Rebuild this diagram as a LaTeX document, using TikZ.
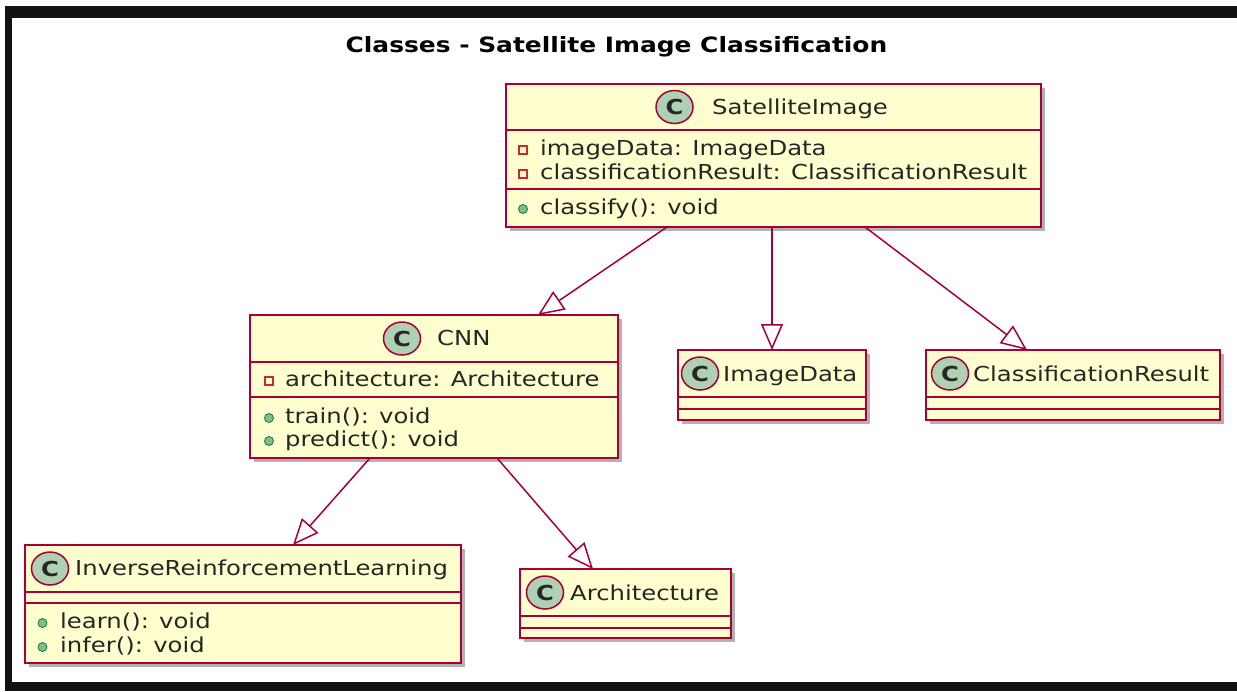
\documentclass[tikz,border=0pt]{standalone}
\usepackage{fontspec}
\setmainfont{DejaVu Sans}[FakeStretch=1.18]
\usetikzlibrary{arrows.meta,shapes.geometric,shadows,calc}
\definecolor{umlfill}{HTML}{FEFECE}
\definecolor{umlred}{HTML}{A80036}
\definecolor{umlgreen}{HTML}{ADD1B2}
\definecolor{privred}{HTML}{C82930}
\definecolor{pubfill}{HTML}{84BE84}
\definecolor{publine}{HTML}{038048}
\newcommand\umlfont{\fontsize{20.6pt}{24pt}\selectfont}
\tikzset{
  classbox/.style={draw=umlred, fill=umlfill, line width=1.5pt, anchor=north west, inner sep=0pt, outer sep=0pt,
    drop shadow={shadow xshift=4pt, shadow yshift=-4pt, opacity=0.3, fill=black}},
  divider/.style={draw=umlred, line width=1.5pt},
  ctag/.style={ellipse, draw=umlred, fill=umlgreen, line width=1.5pt, minimum width=37pt, minimum height=33pt, inner sep=0pt, font=\umlfont\bfseries, text=black!85},
  member/.style={anchor=base west, inner sep=0pt, font=\umlfont, text=black!85},
  priv/.style={rectangle, draw=privred, line width=1.2pt, minimum size=8pt, inner sep=0pt},
  pub/.style={circle, draw=publine, fill=pubfill, line width=0.8pt, minimum size=9pt, inner sep=0pt},
  inherit/.style={draw=umlred, line width=1.5pt, -{Triangle[open, length=26pt, width=22pt]}}
}
\begin{document}
\begin{tikzpicture}[x=1pt,y=-1pt]
\useasboundingbox (0,0) rectangle (1237,691);
% frame
\fill[black!93] (5,6) rectangle (1237,18);
\fill[black!93] (5,6) rectangle (12,691);
\fill[black!93] (5,682) rectangle (1237,691);
\node[font=\fontsize{21.1pt}{25pt}\selectfont\bfseries, anchor=base, inner sep=0pt] (title) at (616.5,52) {Classes - Satellite Image Classification};

% SatelliteImage
\node[classbox, minimum width=535pt, minimum height=143pt] (sat) at (506,84) {};
\draw[divider] (506,130) -- (1041,130) (506,189) -- (1041,189);
\node[ctag] (satc) at (674.5,107) {C};
\node[member] (satn) at (712,114) {SatelliteImage};
\node[priv] (satp1) at (523,150) {};
\node[member] (sata1) at (540,155) {imageData: ImageData};
\node[priv] (satp2) at (523,174) {};
\node[member] (sata2) at (540,179) {classificationResult: ClassificationResult};
\node[pub] (satm1) at (523,209) {};
\node[member] (satm1t) at (540,214) {classify(): void};

% CNN
\node[classbox, minimum width=368pt, minimum height=143pt] (cnn) at (250,315) {};
\draw[divider] (250,362) -- (618,362) (250,397) -- (618,397);
\node[ctag] (cnnc) at (402,338.5) {C};
\node[member] (cnnn) at (437,345.5) {CNN};
\node[priv] (cnnp1) at (269,381) {};
\node[member] (cnna1) at (285,386) {architecture: Architecture};
\node[pub] (cnnm1) at (269,418) {};
\node[member] (cnnm1t) at (285,423) {train(): void};
\node[pub] (cnnm2) at (269,441) {};
\node[member] (cnnm2t) at (285,446) {predict(): void};

% ImageData
\node[classbox, minimum width=188pt, minimum height=70pt] (imgdata) at (678,350) {};
\draw[divider] (678,397) -- (866,397) (678,409) -- (866,409);
\node[ctag] (imgc) at (700,373.5) {C};
\node[member] (imgn) at (723,381.5) {ImageData};

% ClassificationResult
\node[classbox, minimum width=294pt, minimum height=70pt] (clsres) at (926,350) {};
\draw[divider] (926,397) -- (1220,397) (926,409) -- (1220,409);
\node[ctag] (clsc) at (950,373.5) {C};
\node[member] (clsn) at (973,381.5) {ClassificationResult};

% InverseReinforcementLearning
\node[classbox, minimum width=436pt, minimum height=118pt] (irl) at (25,545) {};
\draw[divider] (25,592) -- (461,592) (25,603) -- (461,603);
\node[ctag] (irlc) at (50,568.5) {C};
\node[member] (irln) at (75,575.5) {InverseReinforcementLearning};
\node[pub] (irlm1) at (42.5,623) {};
\node[member] (irlm1t) at (60,628) {learn(): void};
\node[pub] (irlm2) at (42.5,647) {};
\node[member] (irlm2t) at (60,652) {infer(): void};

% Architecture
\node[classbox, minimum width=211pt, minimum height=69pt] (arch) at (520,569) {};
\draw[divider] (520,616) -- (731,616) (520,628) -- (731,628);
\node[ctag] (archc) at (545,592.5) {C};
\node[member] (archn) at (570,600) {Architecture};

% inheritance
\draw[inherit] ($(sat.south west)+(161,0)$) -- ($(cnn.north west)+(288,0)$);
\draw[inherit] ($(sat.south west)+(266,0)$) -- ($(imgdata.north west)+(94,0)$);
\draw[inherit] ($(sat.south west)+(359,0)$) -- ($(clsres.north west)+(101,0)$);
\draw[inherit] ($(cnn.south west)+(120,0)$) -- ($(irl.north west)+(268,0)$);
\draw[inherit] ($(cnn.south west)+(247,0)$) -- ($(arch.north west)+(73,0)$);
\end{tikzpicture}
\end{document}
